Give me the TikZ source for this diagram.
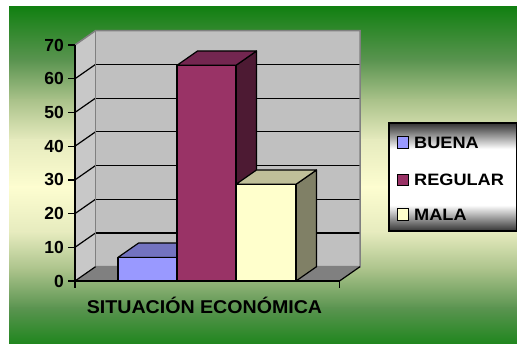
\documentclass[tikz,border=0pt]{standalone}
\usepackage{fontspec}
\setmainfont{Liberation Sans}
\definecolor{bgG}{HTML}{128012}
\definecolor{bgG2}{HTML}{5A9450}
\definecolor{bgG3}{HTML}{AAC28A}
\definecolor{bgG4}{HTML}{E6EBBE}
\definecolor{bgY}{HTML}{FDFDD0}
\definecolor{bgB}{HTML}{20861E}
\definecolor{wallC}{HTML}{C0C0C0}
\definecolor{lwallC}{HTML}{C8C8C8}
\definecolor{floorC}{HTML}{808080}
\definecolor{edgeC}{HTML}{808080}
\definecolor{bueF}{HTML}{9999FF}
\definecolor{bueT}{HTML}{7373C0}
\definecolor{bueS}{HTML}{4D4D80}
\definecolor{regF}{HTML}{993366}
\definecolor{regT}{HTML}{732650}
\definecolor{regS}{HTML}{4D1A33}
\definecolor{malF}{HTML}{FFFFCC}
\definecolor{malT}{HTML}{BFBF99}
\definecolor{malS}{HTML}{808066}
\pgfdeclareverticalshading{legshade}{100bp}{color(0bp)=(black!80); color(25bp)=(black!80); color(37bp)=(white); color(63bp)=(white); color(75bp)=(black!80); color(100bp)=(black!80)}
\tikzset{
  barline/.style={draw=black, line width=1.2pt, line join=round},
  wallline/.style={draw=edgeC, line width=1.5pt},
  gridline/.style={black, line width=1.2pt},
  axisline/.style={black, line width=1.3pt},
  ylab/.style={anchor=east, inner sep=0pt, font=\fontsize{17.5}{17.5}\selectfont\bfseries},
  legtext/.style={anchor=west, inner sep=0pt, font=\fontsize{16.5}{16.5}\selectfont\bfseries},
  legsq/.style={draw=black, line width=1pt},
}
\begin{document}
\begin{tikzpicture}[x=1pt,y=-1pt]
\useasboundingbox (0,0) rectangle (517,344);
\fill[white] (0,0) rectangle (517,344);
% background gradient
\shade[top color=bgG, bottom color=bgG2] (9,7) rectangle (517,60.5);
\shade[top color=bgG2, bottom color=bgG3] (9,60) rectangle (517,100.5);
\shade[top color=bgG3, bottom color=bgG4] (9,100) rectangle (517,140.5);
\shade[top color=bgG4, bottom color=bgY] (9,140) rectangle (517,187.5);
\shade[top color=bgY, bottom color=bgG4] (9,187) rectangle (517,232.5);
\shade[top color=bgG4, bottom color=bgG3] (9,232) rectangle (517,270.5);
\shade[top color=bgG3, bottom color=bgG2] (9,270) rectangle (517,308.5);
\shade[top color=bgG2, bottom color=bgB] (9,308) rectangle (517,344);
% back wall
\fill[wallC] (95.5,30.7) rectangle (360,266.7);
% left wall
\fill[lwallC] (75,45) -- (95.5,30.7) -- (95.5,266.7) -- (75,281) -- cycle;
% floor
\fill[floorC] (75,281) -- (95.5,266.7) -- (360,266.7) -- (339.5,281) -- cycle;
% gridlines
\foreach \v in {10,20,...,60}{
  \draw[gridline] (95.5,{266.7-3.371*\v}) -- (360,{266.7-3.371*\v});
  \draw[gridline] (75,{281-3.371*\v}) -- (95.5,{266.7-3.371*\v});
}
% wall edges
\draw[wallline] (75,45) -- (95.5,30.7) -- (360,30.7) -- (360,266.7) -- (95.5,266.7);
\draw[wallline] (95.5,30.7) -- (95.5,266.7);
\draw[barline] (75,281) -- (95.5,266.7);
\draw[barline] (339.5,281) -- (360,266.7);
% BUENA bar
\fill[bueT] (118,257.4) -- (138.5,243.1) -- (197.5,243.1) -- (177,257.4) -- cycle;
\draw[barline] (118,257.4) -- (138.5,243.1) -- (197.5,243.1) -- (177,257.4) -- cycle;
\fill[bueF] (118,257.4) rectangle (177,281);
\draw[barline] (118,257.4) rectangle (177,281);
% REGULAR bar
\fill[regS] (236,65.3) -- (256.5,51) -- (256.5,266.7) -- (236,281) -- cycle;
\draw[barline] (236,65.3) -- (256.5,51) -- (256.5,266.7) -- (236,281) -- cycle;
\fill[regT] (177,65.3) -- (197.5,51) -- (256.5,51) -- (236,65.3) -- cycle;
\draw[barline] (177,65.3) -- (197.5,51) -- (256.5,51) -- (236,65.3) -- cycle;
\fill[regF] (177,65.3) rectangle (236,281);
\draw[barline] (177,65.3) rectangle (236,281);
% MALA bar
\fill[malS] (296,184.3) -- (316.5,170) -- (316.5,266.7) -- (296,281) -- cycle;
\draw[barline] (296,184.3) -- (316.5,170) -- (316.5,266.7) -- (296,281) -- cycle;
\fill[malT] (236,184.3) -- (256.5,170) -- (316.5,170) -- (296,184.3) -- cycle;
\draw[barline] (236,184.3) -- (256.5,170) -- (316.5,170) -- (296,184.3) -- cycle;
\fill[malF] (236,184.3) rectangle (296,281);
\draw[barline] (236,184.3) rectangle (296,281);
% axes
\draw[axisline] (75,45) -- (75,281);
\draw[axisline] (75,281) -- (339.5,281);
\draw[axisline] (75,281) -- (75,288);
\draw[axisline] (339.5,281) -- (339.5,288);
\foreach \v in {0,10,...,70}{
  \draw[axisline] (68,{281-3.371*\v}) -- (75,{281-3.371*\v});
  \node[ylab] (y\v) at (64,{281-3.371*\v}) {\v};
}
% category label
\node[inner sep=0pt, font=\fontsize{18.5}{18.5}\selectfont\bfseries] (cat) at (204.5,305) {\scalebox{1.06}[1]{SITUACIÓN ECONÓMICA}};
% legend
\shade[shading=legshade] (389,123) rectangle (516.5,231);
\draw[black, line width=1.2pt] (389,123) rectangle (516.5,231);
\filldraw[legsq, fill=bueF] (397,137) rectangle (408.5,148.5);
\filldraw[legsq, fill=regF] (397,174.5) rectangle (408.5,186);
\filldraw[legsq, fill=malF] (397,209) rectangle (408.5,220.5);
\node[legtext] (lb) at (414,142.8) {\scalebox{1.1}[1]{BUENA}};
\node[legtext] (lr) at (414,180.3) {\scalebox{1.1}[1]{REGULAR}};
\node[legtext] (lm) at (414,214.8) {\scalebox{1.1}[1]{MALA}};
\end{tikzpicture}
\end{document}
